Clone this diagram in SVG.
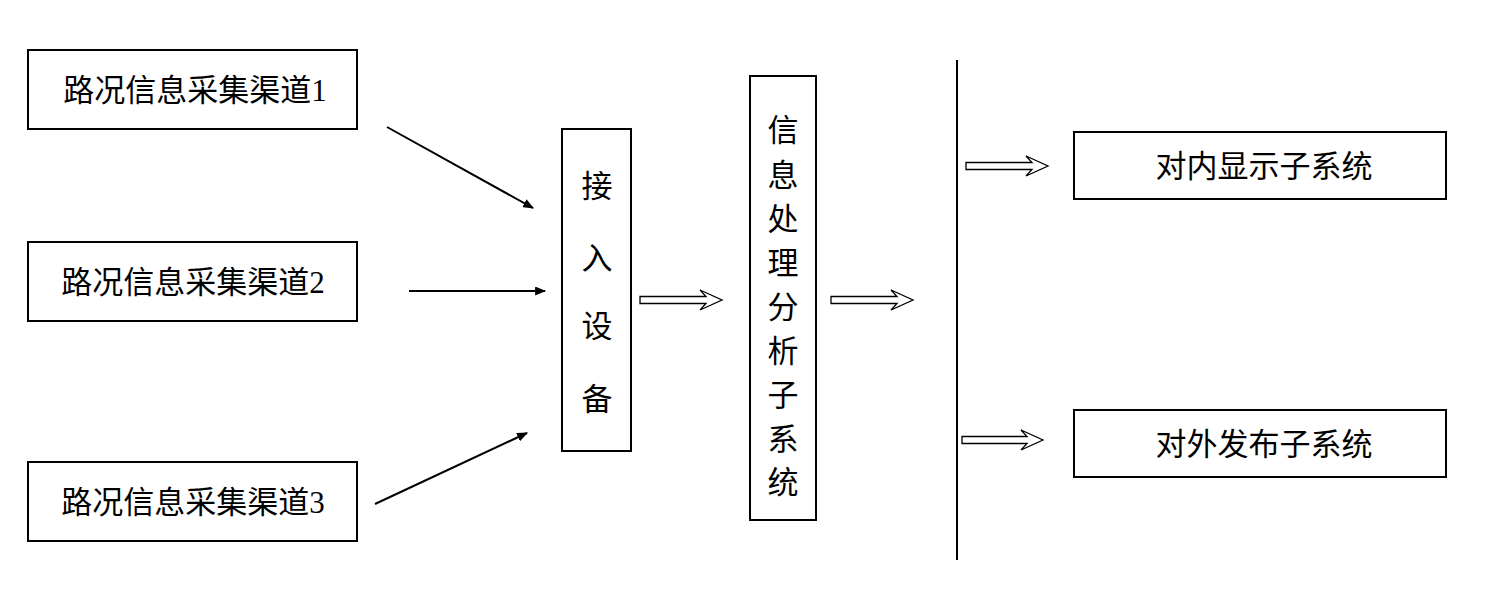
<svg xmlns="http://www.w3.org/2000/svg" width="1499" height="609" viewBox="0 0 1499 609">
<style>
.box{fill:#fff;stroke:#000;stroke-width:2}
.t{font-family:"Liberation Serif","Noto Sans CJK SC",serif;font-size:31px;fill:#000;text-anchor:middle;dominant-baseline:central}
.ln{stroke:#000;stroke-width:2;fill:none}
.ha{fill:#fff;stroke:#000;stroke-width:1.3}
</style>
<defs>
<marker id="ah" viewBox="0 0 10 10" refX="9" refY="5" markerWidth="11" markerHeight="9" orient="auto" markerUnits="userSpaceOnUse" preserveAspectRatio="none">
<path d="M0,0 L10,5 L0,10 z" fill="#000"/>
</marker>
</defs>
<rect width="1499" height="609" fill="#fff"/>
<g id="n1"><rect class="box" x="28" y="50" width="329" height="79"/><text class="t" x="195" y="90">路况信息采集渠道1</text></g>
<g id="n2"><rect class="box" x="28" y="242" width="329" height="79"/><text class="t" x="193" y="282">路况信息采集渠道2</text></g>
<g id="n3"><rect class="box" x="28" y="462" width="329" height="79"/><text class="t" x="193" y="502">路况信息采集渠道3</text></g>
<g id="access"><rect class="box" x="562" y="129" width="69" height="322"/>
<text class="t" x="597" y="186">接</text><text class="t" x="597" y="258">入</text><text class="t" x="597" y="326">设</text><text class="t" x="597" y="399">备</text></g>
<g id="proc"><rect class="box" x="750" y="76" width="66" height="444"/>
<text class="t" x="783" y="130">信</text><text class="t" x="783" y="175">息</text><text class="t" x="783" y="219">处</text><text class="t" x="783" y="263">理</text><text class="t" x="783" y="307">分</text><text class="t" x="783" y="351">析</text><text class="t" x="783" y="395">子</text><text class="t" x="783" y="439">系</text><text class="t" x="783" y="482">统</text></g>
<g id="inner"><rect class="box" x="1074" y="132" width="372" height="67"/><text class="t" x="1264" y="166">对内显示子系统</text></g>
<g id="outer"><rect class="box" x="1074" y="410" width="372" height="67"/><text class="t" x="1264" y="444">对外发布子系统</text></g>
<g id="connectors">
<line class="ln" x1="387" y1="127" x2="533" y2="208" marker-end="url(#ah)"/>
<line class="ln" x1="409" y1="291" x2="545" y2="291" marker-end="url(#ah)"/>
<line class="ln" x1="375" y1="504" x2="527" y2="433" marker-end="url(#ah)"/>
<line class="ln" x1="957" y1="60" x2="957" y2="560"/>
<polygon class="ha" points="640,296.5 706,296.5 700,290 722,300 700,310 706,303.5 640,303.5"/>
<polygon class="ha" points="831,296.5 897,296.5 891,290 913,300 891,310 897,303.5 831,303.5"/>
<polygon class="ha" points="966,162.5 1032,162.5 1026,156 1048,166 1026,176 1032,169.5 966,169.5"/>
<polygon class="ha" points="962,436.5 1027,436.5 1021,430 1043,440 1021,450 1027,443.5 962,443.5"/>
</g>
</svg>
